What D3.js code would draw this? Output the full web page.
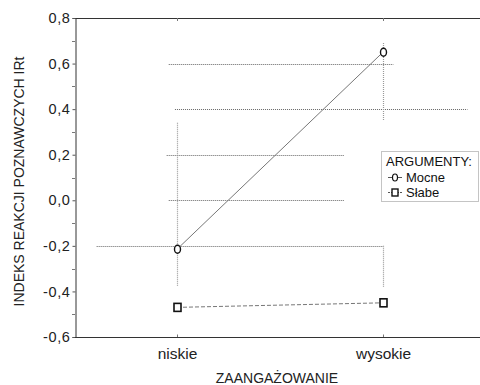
<!DOCTYPE html>
<html>
<head>
<meta charset="utf-8">
<script src="https://cdn.jsdelivr.net/npm/d3@7"></script>
<style>
  body { margin: 0; background: #fff; }
  svg { display: block; font-family: "Liberation Sans", Arial, sans-serif; }
</style>
</head>
<body>
<div id="chart"></div>
<script>
// data
const categories = ['niskie', 'wysokie'];
const mocne = [-0.215, 0.65];
const slabe = [-0.47, -0.45];
const yTicks = [-0.6, -0.4, -0.2, 0.0, 0.2, 0.4, 0.6, 0.8];
// vertical dotted whiskers: [category index, from, to]
const whiskers = [[0, 0.34, -0.38], [1, 0.69, 0.35], [1, -0.2, -0.38]];
// horizontal dotted caps: [value, from (category units), to (category units)]
const caps = [[0.6, -0.04, 1.05], [0.4, -0.01, 1.41], [0.2, -0.05, 0.81], [0.0, -0.04, 0.81], [-0.2, -0.39, 1.0]];
const legendItems = ['Mocne', 'Słabe'];

const width = 480, height = 385;
const margin = { left: 75, right: 0, top: 18, bottom: 48 };
const font = '"Liberation Sans", Arial, sans-serif';

const svg = d3.select('#chart').append('svg')
  .attr('width', width)
  .attr('height', height);

const x = d3.scaleLinear().domain([0, 1]).range([177, 383]);
const y = d3.scaleLinear().domain([-0.6, 0.8]).range([height - margin.bottom, margin.top]);

const fmt = d => d3.format('.1f')(d).replace('.', ',').replace('−', '-');

// frame
svg.append('line').attr('x1', margin.left).attr('x2', width).attr('y1', y(0.8) + 0.5).attr('y2', y(0.8) + 0.5)
  .attr('stroke', '#333').attr('stroke-width', 1);

// y axis
const yAxis = svg.append('g').attr('transform', `translate(${margin.left + 0.5},0)`)
  .call(d3.axisLeft(y).tickValues(yTicks).tickSize(3).tickFormat(fmt));
yAxis.select('.domain').attr('stroke', '#333');
yAxis.selectAll('.tick line').attr('stroke', '#555');
yAxis.selectAll('text').attr('font-size', 14.5).attr('fill', '#222').attr('x', -5)
  .attr('letter-spacing', 0.6).attr('font-family', font);
svg.append('g').selectAll('line')
  .data(yTicks.slice(0, -1).map(d => d + 0.1))
  .join('line')
  .attr('x1', margin.left - 3).attr('x2', margin.left)
  .attr('y1', d => Math.round(y(d)) + 0.5).attr('y2', d => Math.round(y(d)) + 0.5)
  .attr('stroke', '#777');

// x axis
const xAxis = svg.append('g').attr('transform', `translate(0,${y(-0.6) + 0.5})`)
  .call(d3.axisBottom(x).tickValues([0, 1]).tickSize(-3).tickFormat(i => categories[i]));
xAxis.select('.domain').remove();
xAxis.append('line').attr('x1', margin.left).attr('x2', width).attr('stroke', '#333');
xAxis.selectAll('.tick line').attr('stroke', '#777');
xAxis.selectAll('text').attr('font-size', 15.5).attr('fill', '#222').attr('y', 21.5).attr('dy', 0)
  .attr('font-family', font);
svg.append('g').selectAll('line').data([0, 1]).join('line')
  .attr('x1', d => x(d) + 0.5).attr('x2', d => x(d) + 0.5)
  .attr('y1', y(0.8)).attr('y2', y(0.8) + 3)
  .attr('stroke', '#777');

// axis titles
svg.append('text')
  .attr('transform', `translate(24,${(y(0.8) + y(-0.6)) / 2 + 4}) rotate(-90)`)
  .attr('text-anchor', 'middle')
  .attr('font-size', 14).attr('fill', '#222')
  .text('INDEKS REAKCJI POZNAWCZYCH IRt');
svg.append('text')
  .attr('x', 277).attr('y', 383)
  .attr('text-anchor', 'middle')
  .attr('font-size', 14).attr('fill', '#222')
  .text('ZAANGAŻOWANIE');

// dotted caps & whiskers
svg.append('g').selectAll('line').data(caps).join('line')
  .attr('x1', d => x(d[1])).attr('x2', d => x(d[2]))
  .attr('y1', d => Math.round(y(d[0])) + 0.5).attr('y2', d => Math.round(y(d[0])) + 0.5)
  .attr('stroke', '#666').attr('stroke-width', 1).attr('stroke-dasharray', '1,1');
svg.append('g').selectAll('line').data(whiskers).join('line')
  .attr('x1', d => x(d[0]) + 0.5).attr('x2', d => x(d[0]) + 0.5)
  .attr('y1', d => y(d[1])).attr('y2', d => y(d[2]))
  .attr('stroke', '#999').attr('stroke-width', 1.2).attr('stroke-dasharray', '1,1');

// series lines
const line = d3.line().x((d, i) => x(i)).y(d => y(d));
svg.append('path').datum(mocne).attr('d', line)
  .attr('fill', 'none').attr('stroke', '#777').attr('stroke-width', 1);
svg.append('path').datum(slabe).attr('d', line)
  .attr('fill', 'none').attr('stroke', '#777').attr('stroke-width', 1).attr('stroke-dasharray', '4,2');

// markers
svg.append('g').selectAll('ellipse').data(mocne).join('ellipse')
  .attr('cx', (d, i) => x(i) + 0.5).attr('cy', d => y(d))
  .attr('rx', 3).attr('ry', 4)
  .attr('fill', '#fff').attr('stroke', '#111').attr('stroke-width', 1.4);
svg.append('g').selectAll('rect').data(slabe).join('rect')
  .attr('x', (d, i) => x(i) - 3).attr('y', d => y(d) - 4)
  .attr('width', 7).attr('height', 8)
  .attr('fill', '#fff').attr('stroke', '#111').attr('stroke-width', 1.6);

// legend
const lg = svg.append('g').attr('transform', 'translate(381,151)');
lg.append('rect').attr('x', 0.5).attr('y', 0.5).attr('width', 97).attr('height', 50)
  .attr('fill', '#fff').attr('stroke', '#888').attr('stroke-dasharray', '1,1');
lg.append('text').attr('x', 5).attr('y', 15).attr('font-size', 13).attr('fill', '#111').text('ARGUMENTY:');
const items = lg.selectAll('g.item').data(legendItems).join('g')
  .attr('class', 'item')
  .attr('transform', (d, i) => `translate(0,${i * 15 + 26})`);
items.append('line').attr('x1', 7).attr('x2', 21).attr('y1', 0.5).attr('y2', 0.5)
  .attr('stroke', '#555').attr('stroke-dasharray', (d, i) => i ? '2,1' : null);
items.filter((d, i) => i === 0).append('ellipse')
  .attr('cx', 14).attr('cy', 0.5).attr('rx', 2.5).attr('ry', 3.5)
  .attr('fill', '#fff').attr('stroke', '#111').attr('stroke-width', 1.2);
items.filter((d, i) => i === 1).append('rect')
  .attr('x', 11).attr('y', -3).attr('width', 6).attr('height', 7)
  .attr('fill', '#fff').attr('stroke', '#111').attr('stroke-width', 1.4);
items.append('text').attr('x', 25).attr('y', 5).attr('font-size', 13).attr('fill', '#111').text(d => d);
</script>
</body>
</html>
